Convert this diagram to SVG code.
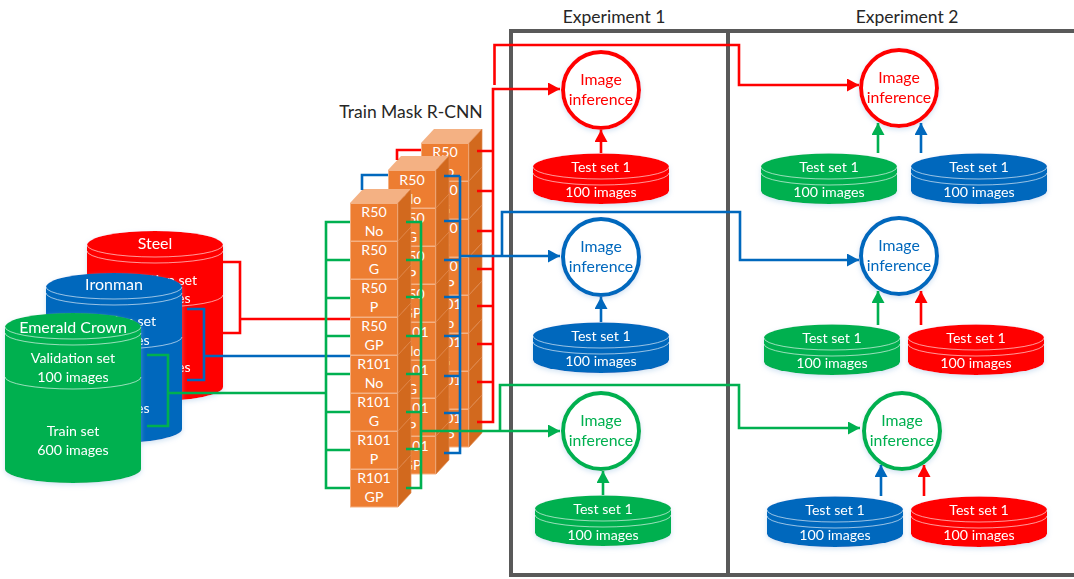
<svg xmlns="http://www.w3.org/2000/svg" xmlns:xlink="http://www.w3.org/1999/xlink" width="1074" height="579" viewBox="0 0 1074 579">
<style>
text{font-family:Lato,"Open Sans","Liberation Sans",sans-serif;text-anchor:middle}
.w{fill:#fff;font-size:16px}
.b{fill:#fff;font-size:14.2px}
.title{fill:#262626;font-size:17.500px}
.inf{font-size:15.8px}
.r{fill:#f00;color:#f00}.u{fill:#0068bd;color:#0068bd}.g{fill:#00b050;color:#00b050}
.ring{fill:#fff;stroke-width:4}
.cr{stroke:#f00}.cu{stroke:#0068bd}.cg{stroke:#00b050}
.arc{fill:none;stroke:#fff;stroke-opacity:.6;stroke-width:1}
.shadow{filter:url(#sh)}
#connectors path{fill:none;stroke-width:2.6;stroke-linejoin:miter}
.frame{fill:none;stroke:#595959;stroke-width:4}
</style>
<defs>
<filter id="sh" x="-15%" y="-15%" width="130%" height="130%"><feDropShadow dx="0" dy="2" stdDeviation="2.5" flood-color="#9dc3e6" flood-opacity=".45"/></filter>
<marker id="ar" markerUnits="userSpaceOnUse" markerWidth="12" markerHeight="13" refX="12" refY="6.5" orient="auto"><path d="M0 0L12 6.5L0 13Z" fill="#f00"/></marker>
<marker id="au" markerUnits="userSpaceOnUse" markerWidth="12" markerHeight="13" refX="12" refY="6.5" orient="auto"><path d="M0 0L12 6.5L0 13Z" fill="#0068bd"/></marker>
<marker id="ag" markerUnits="userSpaceOnUse" markerWidth="12" markerHeight="13" refX="12" refY="6.5" orient="auto"><path d="M0 0L12 6.5L0 13Z" fill="#00b050"/></marker>
<g id="big">
<path d="M0 14A68 14 0 0 1 136 14V156A68 14 0 0 1 0 156Z" fill="currentColor"/>
<path class="arc" d="M0 14A68 12 0 0 0 136 14M0 20A68 12 0 0 0 136 20M0 64A68 12 0 0 0 136 64"/>
</g>
<g id="flat">
<path d="M0 14A68 13.500 0 0 1 136 14V37.500A68 13.500 0 0 1 0 37.500Z" fill="currentColor"/>
<path class="arc" d="M0 14A68 12 0 0 0 136 14M0 20A68 12 0 0 0 136 20"/>
</g>
<g id="top"><path d="M0 0L13 -14H61L48 0Z" fill="#f4b183"/></g>
<g id="block">
<rect x=".5" y=".5" width="47" height="37.500" fill="#ed7d31" stroke="#f4b183" stroke-width="1"/>
<path d="M48 0L61 -14V24L48 38Z" fill="#d2691e" stroke="#e08a50" stroke-width=".7"/>
</g>
</defs>
<rect width="1074" height="579" fill="#fff"/>

<g id="frames">
<path class="frame" d="M1074 31H511V575H1074M728 31V575"/>
</g>
<text class="title" x="614" y="23">Experiment 1</text>
<text class="title" x="907" y="23">Experiment 2</text>
<text class="title" x="411" y="118">Train Mask R-CNN</text>

<g id="db-steel" class="shadow">
<use href="#big" x="87" y="231" class="r"/>
<text class="w" x="155" y="249">Steel</text>
<text class="b" x="155" y="285">Validation set</text>
<text class="b" x="155" y="303">100 images</text>
<text class="b" x="155" y="354">Train set</text>
<text class="b" x="155" y="372">600 images</text>
</g>
<g id="db-ironman" class="shadow">
<use href="#big" x="46" y="273" class="u"/>
<text class="w" x="114" y="290">Ironman</text>
<text class="b" x="114" y="326">Validation set</text>
<text class="b" x="114" y="345">100 images</text>
<text class="b" x="114" y="395">Train set</text>
<text class="b" x="114" y="413">600 images</text>
</g>
<g id="db-emerald" class="shadow">
<use href="#big" x="5" y="313" class="g"/>
<text class="w" x="73" y="333">Emerald Crown</text>
<text class="b" x="73" y="363">Validation set</text>
<text class="b" x="73" y="382">100 images</text>
<text class="b" x="73" y="436">Train set</text>
<text class="b" x="73" y="455">600 images</text>
</g>

<g id="stack-back">
<use href="#top" x="421" y="143"/>
<use href="#block" x="421" y="143"/><use href="#block" x="421" y="181"/><use href="#block" x="421" y="219"/><use href="#block" x="421" y="257"/><use href="#block" x="421" y="295"/><use href="#block" x="421" y="333"/><use href="#block" x="421" y="371"/><use href="#block" x="421" y="409"/>
<text class="b" x="445" y="157">R50</text><text class="b" x="445" y="176">No</text>
<text class="b" x="445" y="195">R50</text><text class="b" x="445" y="214">G</text>
<text class="b" x="445" y="233">R50</text><text class="b" x="445" y="252">P</text>
<text class="b" x="445" y="271">R50</text><text class="b" x="445" y="290">GP</text>
<text class="b" x="445" y="309">R101</text><text class="b" x="445" y="328">No</text>
<text class="b" x="445" y="347">R101</text><text class="b" x="445" y="366">G</text>
<text class="b" x="445" y="385">R101</text><text class="b" x="445" y="404">P</text>
<text class="b" x="445" y="423">R101</text><text class="b" x="445" y="442">GP</text>
</g>
<g id="stack-middle">
<use href="#top" x="388" y="170"/>
<use href="#block" x="388" y="170"/><use href="#block" x="388" y="208"/><use href="#block" x="388" y="246"/><use href="#block" x="388" y="284"/><use href="#block" x="388" y="322"/><use href="#block" x="388" y="360"/><use href="#block" x="388" y="398"/><use href="#block" x="388" y="436"/>
<text class="b" x="412" y="185">R50</text><text class="b" x="412" y="204">No</text>
<text class="b" x="412" y="223">R50</text><text class="b" x="412" y="242">G</text>
<text class="b" x="412" y="261">R50</text><text class="b" x="412" y="280">P</text>
<text class="b" x="412" y="299">R50</text><text class="b" x="412" y="318">GP</text>
<text class="b" x="412" y="337">R101</text><text class="b" x="412" y="356">No</text>
<text class="b" x="412" y="375">R101</text><text class="b" x="412" y="394">G</text>
<text class="b" x="412" y="413">R101</text><text class="b" x="412" y="432">P</text>
<text class="b" x="412" y="451">R101</text><text class="b" x="412" y="470">GP</text>
</g>
<g id="stack-front">
<use href="#top" x="350" y="203"/>
<use href="#block" x="350" y="203"/><use href="#block" x="350" y="241"/><use href="#block" x="350" y="279"/><use href="#block" x="350" y="317"/><use href="#block" x="350" y="355"/><use href="#block" x="350" y="393"/><use href="#block" x="350" y="431"/><use href="#block" x="350" y="469"/>
<text class="b" x="374" y="217">R50</text><text class="b" x="374" y="236">No</text>
<text class="b" x="374" y="255">R50</text><text class="b" x="374" y="274">G</text>
<text class="b" x="374" y="293">R50</text><text class="b" x="374" y="312">P</text>
<text class="b" x="374" y="331">R50</text><text class="b" x="374" y="350">GP</text>
<text class="b" x="374" y="369">R101</text><text class="b" x="374" y="388">No</text>
<text class="b" x="374" y="407">R101</text><text class="b" x="374" y="426">G</text>
<text class="b" x="374" y="445">R101</text><text class="b" x="374" y="464">P</text>
<text class="b" x="374" y="483">R101</text><text class="b" x="374" y="502">GP</text>
</g>

<g id="inf-e1-red" class="shadow"><circle class="ring cr" cx="601" cy="90" r="38"/><text class="inf r" x="601" y="85">Image</text><text class="inf r" x="601" y="105">inference</text></g>
<g id="inf-e1-blue" class="shadow"><circle class="ring cu" cx="601" cy="257" r="38"/><text class="inf u" x="601" y="252">Image</text><text class="inf u" x="601" y="272">inference</text></g>
<g id="inf-e1-green" class="shadow"><circle class="ring cg" cx="601" cy="431" r="38"/><text class="inf g" x="601" y="426">Image</text><text class="inf g" x="601" y="446">inference</text></g>
<g id="inf-e2-red" class="shadow"><circle class="ring cr" cx="899" cy="88" r="38"/><text class="inf r" x="899" y="83">Image</text><text class="inf r" x="899" y="103">inference</text></g>
<g id="inf-e2-blue" class="shadow"><circle class="ring cu" cx="899" cy="256" r="38"/><text class="inf u" x="899" y="251">Image</text><text class="inf u" x="899" y="271">inference</text></g>
<g id="inf-e2-green" class="shadow"><circle class="ring cg" cx="902" cy="431" r="38"/><text class="inf g" x="902" y="426">Image</text><text class="inf g" x="902" y="446">inference</text></g>

<g id="test-e1-red" class="shadow"><use href="#flat" x="533" y="153" class="r"/><text class="b" x="601" y="172">Test set 1</text><text class="b" x="601" y="197">100 images</text></g>
<g id="test-e1-blue" class="shadow"><use href="#flat" x="533" y="322" class="u"/><text class="b" x="601" y="341">Test set 1</text><text class="b" x="601" y="366">100 images</text></g>
<g id="test-e1-green" class="shadow"><use href="#flat" x="535" y="495" class="g"/><text class="b" x="603" y="514">Test set 1</text><text class="b" x="603" y="540">100 images</text></g>
<g id="test-e2-r-green" class="shadow"><use href="#flat" x="761" y="153" class="g"/><text class="b" x="829" y="172">Test set 1</text><text class="b" x="829" y="197">100 images</text></g>
<g id="test-e2-r-blue" class="shadow"><use href="#flat" x="911" y="153" class="u"/><text class="b" x="979" y="172">Test set 1</text><text class="b" x="979" y="197">100 images</text></g>
<g id="test-e2-b-green" class="shadow"><use href="#flat" x="764" y="324" class="g"/><text class="b" x="832" y="343">Test set 1</text><text class="b" x="832" y="368">100 images</text></g>
<g id="test-e2-b-red" class="shadow"><use href="#flat" x="908" y="324" class="r"/><text class="b" x="976" y="343">Test set 1</text><text class="b" x="976" y="368">100 images</text></g>
<g id="test-e2-g-blue" class="shadow"><use href="#flat" x="767" y="496" class="u"/><text class="b" x="835" y="515">Test set 1</text><text class="b" x="835" y="540">100 images</text></g>
<g id="test-e2-g-red" class="shadow"><use href="#flat" x="911" y="496" class="r"/><text class="b" x="979" y="515">Test set 1</text><text class="b" x="979" y="540">100 images</text></g>

<g id="connectors">
<g class="cr">
<path d="M222 262H240V333H222M240 319H350"/>
<path d="M397 160V150H421"/>
<path d="M477 151H493M477 191H493M477 231H493M477 269H493M477 306H493M477 344H493M477 382H493M477 422H493V89H560" marker-end="url(#ar)"/>
<path d="M494.500 85V45H739V85H859" marker-end="url(#ar)"/>
<path d="M601 153V130" marker-end="url(#ar)"/>
<path d="M921 325V291" marker-end="url(#ar)"/>
<path d="M924 496V465" marker-end="url(#ar)"/>
</g>
<g class="cu">
<path d="M187 309H204V380H187M204 356H350"/>
<path d="M362 190V175H388"/>
<path d="M444 176H460M444 221H460M444 260H460M444 297H460M444 336H460M444 376H460M444 413H460M444 453H460V176"/>
<path d="M460 256H560" marker-end="url(#au)"/>
<path d="M502 256V212H740V260H859" marker-end="url(#au)"/>
<path d="M601 322V297" marker-end="url(#au)"/>
<path d="M921 153V123" marker-end="url(#au)"/>
<path d="M881 496V465" marker-end="url(#au)"/>
</g>
<g class="cg">
<path d="M147 355H168V426H147M168 393H326"/>
<path d="M350 222H326V488H350M326 260H350M326 298H350M326 336H350M326 374H350M326 412H350M326 450H350"/>
<path d="M406 222H421V488H406M406 260H421M406 297H421M406 336H421M406 374H421M406 412H421M406 449H421"/>
<path d="M421 431H560" marker-end="url(#ag)"/>
<path d="M500 431V385H739V428H860" marker-end="url(#ag)"/>
<path d="M603 495V471" marker-end="url(#ag)"/>
<path d="M878 153V123" marker-end="url(#ag)"/>
<path d="M878 325V291" marker-end="url(#ag)"/>
</g>
</g>
</svg>
